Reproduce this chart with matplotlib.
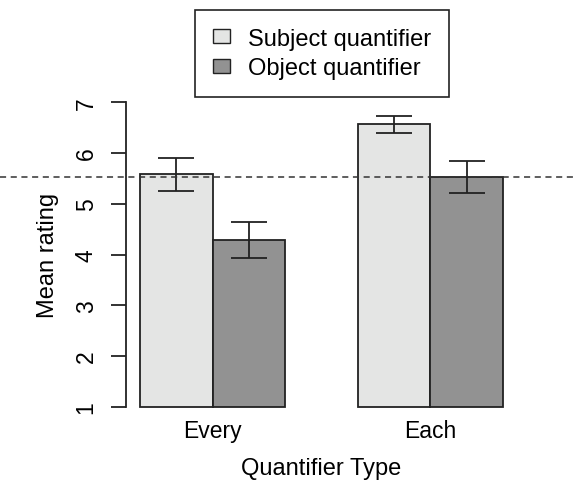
import numpy as np
import matplotlib
matplotlib.use("Agg")
import matplotlib.pyplot as plt
from matplotlib.patches import Patch
from matplotlib import transforms

plt.rcParams['font.family'] = ['Liberation Sans', 'DejaVu Sans']

# mean ratings per quantifier type, with error bar half-widths
groups = ["Every", "Each"]
series = ["Subject quantifier", "Object quantifier"]
subject_mean = [5.58, 6.57]
object_mean = [4.29, 5.53]
subject_err = [0.32, 0.17]
object_err = [0.36, 0.32]
reference_line = 5.53

light = "#e4e5e4"
dark = "#929292"
edge = "#222222"
fs = 16.5

fig = plt.figure(figsize=(5.76, 4.85), dpi=100)
ax = fig.add_axes([0.2179, 0.134, 0.6805, 0.678])

# barplot layout: width 1 bars, one bar gap between groups
group_start = np.array([1.0, 4.0])
x_sub = group_start + 0.5
x_obj = group_start + 1.5

ax.bar(x_sub, np.array(subject_mean) - 1, bottom=1, width=1.0,
       color=light, edgecolor=edge, linewidth=1.3, zorder=2)
ax.bar(x_obj, np.array(object_mean) - 1, bottom=1, width=1.0,
       color=dark, edgecolor=edge, linewidth=1.3, zorder=2)

for xs, m, e in [(x_sub, subject_mean, subject_err), (x_obj, object_mean, object_err)]:
    ax.errorbar(xs, m, yerr=e, fmt='none', ecolor=edge, elinewidth=1.3,
                capsize=13, capthick=1.3, zorder=3)

# dashed reference line across the whole figure width
trans = transforms.blended_transform_factory(fig.transFigure, ax.transData)
ax.plot([0, 1], [reference_line, reference_line], transform=trans,
        color="#333333", linestyle=(0, (4, 3)), linewidth=1.1,
        clip_on=False, zorder=4)

ax.set_xlim(0.8, 6.2)
ax.set_ylim(0.76, 7.24)

for s in ['top', 'right', 'bottom']:
    ax.spines[s].set_visible(False)
ax.spines['left'].set_bounds(1, 7)
ax.spines['left'].set_linewidth(1.3)
ax.spines['left'].set_color(edge)

ax.set_yticks(range(1, 8))
ax.set_yticklabels([str(i) for i in range(1, 8)], rotation=90, va='center')
ax.tick_params(axis='y', length=11, width=1.3, color=edge, pad=9, labelsize=fs)

ax.set_xticks(group_start + 1.0)
ax.set_xticklabels(groups)
ax.tick_params(axis='x', length=0, pad=0, labelsize=fs)

ax.set_ylabel("Mean rating", fontsize=17, labelpad=11)
ax.set_xlabel("Quantifier Type", fontsize=17, labelpad=11)

handles = [Patch(facecolor=light, edgecolor=edge, linewidth=1.0),
           Patch(facecolor=dark, edgecolor=edge, linewidth=1.0)]
leg = fig.legend(handles, series, loc='upper left',
                 bbox_to_anchor=(0.3385, 0.9773), bbox_transform=fig.transFigure,
                 fontsize=17, frameon=True, fancybox=False, framealpha=1,
                 edgecolor=edge, borderpad=0.75, handlelength=0.75,
                 handleheight=0.55, handletextpad=0.75, labelspacing=0.31,
                 borderaxespad=0)
leg.get_frame().set_linewidth(1.2)

fig.savefig("out.png", dpi=100)
